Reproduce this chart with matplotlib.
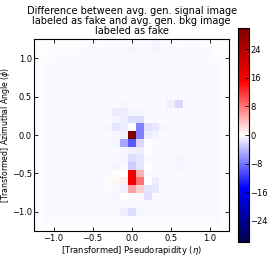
import numpy as np
import matplotlib
matplotlib.use("Agg")
import matplotlib.pyplot as plt

# 25x25 difference image (rows from top: phi = +1.2 ... -1.2; cols: eta = -1.2 ... +1.2)
diff_rows = [
    [0.0, -0.1, -0.2, -0.2, -0.2, -0.2, -0.2, -0.3, -0.2, -0.3, -0.3, -0.3, -0.4, -0.3, -0.3, -0.5, -0.3, -0.3, -0.2, -0.3, -0.3, -0.2, -0.2, -0.2, -0.2],
    [-0.1, -0.2, -0.2, -0.3, -0.2, -0.3, -0.3, -0.3, -0.3, -0.3, -0.3, -0.3, -0.5, -0.3, -0.3, -0.5, -0.3, -0.3, -0.3, -0.3, -0.3, -0.3, -0.3, -0.2, -0.2],
    [-0.2, -0.2, -0.3, -0.3, -0.3, -0.3, -0.3, -0.3, -0.3, -0.3, -0.3, -0.3, -0.3, -0.3, -0.3, -0.3, -0.3, -0.3, -0.3, -0.3, -0.3, -0.4, -0.3, -0.2, -0.2],
    [-0.2, -0.3, -0.3, -0.3, -0.3, -0.3, -0.3, -0.4, -0.3, -0.3, -0.3, -0.3, -0.3, -0.3, -0.3, -0.3, -0.3, -0.3, -0.3, -0.3, -0.3, -0.3, -0.3, -0.3, -0.2],
    [-0.2, -0.3, -0.3, -0.3, -0.3, -0.3, -0.4, -0.4, -0.3, -0.3, -0.3, -0.3, -0.3, -0.3, -0.3, -0.3, -0.3, -0.3, -0.3, -0.3, -0.3, -0.3, -0.3, -0.3, -0.2],
    [-0.2, -0.4, -0.3, -0.3, -0.3, -0.3, -0.3, -0.3, -0.3, -0.3, -0.3, -0.3, -0.3, -0.3, -0.3, -0.3, -0.3, -0.3, -0.3, -0.3, -0.3, -0.4, -0.3, -0.3, -0.2],
    [-0.2, -0.3, -0.3, -0.3, -0.3, -0.3, -0.3, -0.3, -0.3, -0.3, -0.3, -0.3, -0.3, -0.3, -0.3, -0.3, -0.3, -0.3, -0.3, -0.3, -0.3, -0.3, -0.3, -0.3, -0.2],
    [-0.2, -0.3, -0.3, -0.3, -0.3, -0.3, -0.3, -0.3, -0.3, -0.3, -0.3, -0.3, -0.4, -0.3, -0.3, -0.3, -0.3, -0.3, -0.3, -0.3, -0.3, -0.3, -0.3, -0.3, -0.2],
    [-0.2, -0.3, -0.3, -0.3, -0.3, -0.3, -0.3, -0.3, -0.3, -0.3, -0.4, -0.5, -0.3, -0.3, -0.3, -0.3, -0.3, -1.0, -2.2, -0.3, -0.3, -0.3, -0.3, -0.3, -0.2],
    [-0.2, -0.3, -0.4, -0.3, -0.3, -0.3, -0.3, -0.3, -0.3, -0.3, -1.0, -1.0, -0.6, -0.5, -0.3, -0.3, -0.3, -0.3, -0.3, -0.3, -0.3, -0.3, -0.3, -0.3, -0.2],
    [-0.2, -0.3, -0.3, -0.3, -0.3, -0.3, -0.3, -0.3, -0.3, -0.3, -0.5, -1.0, -2.0, -2.0, -0.4, -0.3, -0.3, -0.3, -0.3, -0.3, -0.3, -0.3, -0.3, -0.3, -0.2],
    [-0.2, -0.3, -0.3, -0.3, -0.3, -0.3, -0.3, -0.3, -0.3, -0.5, -1.5, -1.0, 0.0, -7.5, -1.8, -1.2, -0.6, -0.3, -0.3, -0.3, -0.3, -0.3, -0.3, -0.3, -0.2],
    [-0.2, -0.3, -0.3, -0.3, -0.3, -0.3, -0.3, -0.3, -0.3, -0.3, -0.5, -0.8, 30.0, -7.5, -1.0, -0.8, -0.3, -0.3, -0.3, -0.3, -0.3, -0.3, -0.3, -0.3, -0.2],
    [-0.2, -0.3, -0.3, -0.3, -0.3, -0.3, -0.3, -0.3, -0.3, -0.3, -0.5, -5.3, -9.8, -2.3, 0.0, -0.3, -0.3, -0.3, -0.3, -0.3, -0.3, -0.3, -0.3, -0.3, -0.2],
    [-0.2, -0.3, -0.3, -0.3, -0.3, -0.3, -0.3, -0.3, -0.3, -0.3, -0.3, -0.5, -0.8, -1.0, 0.0, -0.3, -0.3, -0.3, -0.3, -0.3, -0.3, -0.3, -0.3, -0.3, -0.2],
    [-0.2, -0.4, -0.3, -0.3, -0.3, -0.3, -0.3, -0.3, -0.3, -0.3, -0.3, -0.5, -2.0, -1.5, -0.3, -0.3, -0.3, -0.3, -0.5, -0.3, -0.3, -0.3, -0.3, -0.3, -0.2],
    [-0.2, -0.3, -0.3, -0.3, -0.3, -0.3, -0.3, -0.3, -0.3, -0.3, -0.6, -0.4, -3.0, -1.5, 0.0, -0.4, -0.3, -0.3, -0.6, -0.3, -0.3, -0.3, -0.3, -0.3, -0.2],
    [-0.2, -0.3, -0.3, -0.3, -0.3, -0.3, -0.3, -0.3, -0.3, -0.3, 0.0, 0.0, 16.0, 4.5, -0.4, -0.3, -0.3, -0.3, -0.3, -0.3, -0.3, -0.3, -0.3, -0.3, -0.2],
    [-0.2, -0.3, -0.3, -0.3, -0.3, -0.3, -0.3, -0.3, -0.3, 0.3, 0.6, 1.0, 16.5, 8.3, 0.0, -1.0, -0.3, -0.3, -0.3, -0.3, -0.3, -0.3, -0.3, -0.3, -0.2],
    [-0.2, -0.3, -0.3, -0.3, -0.3, -0.3, -0.3, -0.3, -0.3, -0.3, -0.3, -0.8, 5.3, 2.7, -1.5, -1.2, -0.3, -0.3, -0.3, -0.3, -0.3, -0.3, -0.3, -0.3, -0.2],
    [-0.2, -0.3, -0.3, -0.3, -0.3, -0.3, -0.3, -0.3, -0.3, -0.3, -0.7, 0.0, -0.3, -0.3, -1.8, -0.3, -0.3, -0.3, -0.3, -0.3, -0.3, -0.3, -0.3, -0.3, -0.2],
    [-0.2, -0.3, -0.3, -0.3, -0.3, -0.3, -0.3, -0.3, -0.3, -0.3, -0.3, -0.3, -0.3, -0.3, -0.3, -0.3, -0.3, -0.3, -0.3, -0.3, -0.3, -0.3, -0.3, -0.3, -0.2],
    [-0.2, -0.3, -0.3, -0.3, -0.3, -0.3, -0.3, -0.3, -0.3, -0.3, -0.3, -1.0, -2.0, -0.5, -0.3, -0.3, -0.3, -0.3, -0.3, -0.3, -0.3, -0.3, -0.4, -0.3, -0.2],
    [-0.2, -0.3, -0.3, -0.3, -0.4, -0.3, -0.3, -0.3, -0.3, -0.3, -0.3, -0.3, -0.3, -0.3, -0.3, -0.4, -0.3, -0.3, -0.3, -0.3, -0.3, -0.3, -0.3, -0.3, -0.2],
    [-0.1, -0.2, -0.2, -0.2, -0.2, -0.2, -0.2, -0.2, -0.2, -0.2, -0.2, -0.2, -0.2, -0.2, -0.2, -0.2, -0.2, -0.2, -0.2, -0.2, -0.2, -0.2, -0.2, -0.2, -0.1],
]
x_ticks = [-1.0, -0.5, 0.0, 0.5, 1.0]
y_ticks = [-1.0, -0.5, 0.0, 0.5, 1.0]
cbar_ticks = [-24, -16, -8, 0, 8, 16, 24]

title = "Difference between avg. gen. signal image\nlabeled as fake and avg. gen. bkg image\nlabeled as fake"
xlabel = r"[Transformed] Pseudorapidity $(\eta)$"
ylabel = r"[Transformed] Azimuthal Angle $(\phi)$"

data = np.array(diff_rows)
vlim = np.abs(data).max()

fig = plt.figure(figsize=(2.77, 2.77), dpi=100)
ax = fig.add_axes([0.123, 0.166, 0.704, 0.693])
cax = fig.add_axes([0.859, 0.126, 0.040, 0.773])

im = ax.imshow(data, cmap="seismic", vmin=-vlim, vmax=vlim, origin="upper",
               extent=[-1.25, 1.25, -1.25, 1.25], interpolation="nearest", aspect="auto")
ax.set_xticks(x_ticks)
ax.set_yticks(y_ticks)
ax.tick_params(direction="in", top=True, right=True, labelsize=6, length=3, width=0.6, pad=2)
ax.tick_params(axis="y", pad=1.5)
for s in ax.spines.values():
    s.set_linewidth(0.8)
ax.set_xlabel(xlabel, fontsize=6, labelpad=1)
ax.set_ylabel(ylabel, fontsize=5.6)
ax.yaxis.set_label_coords(-0.112, 0.5)
ax.set_title(title, fontsize=7, linespacing=1.0, pad=4)

cb = fig.colorbar(im, cax=cax, ticks=cbar_ticks)
cb.ax.tick_params(labelsize=6, length=3, width=0.6, direction="in", pad=1)
cb.outline.set_linewidth(0.8)

fig.savefig("out.png", dpi=100, facecolor="white")
